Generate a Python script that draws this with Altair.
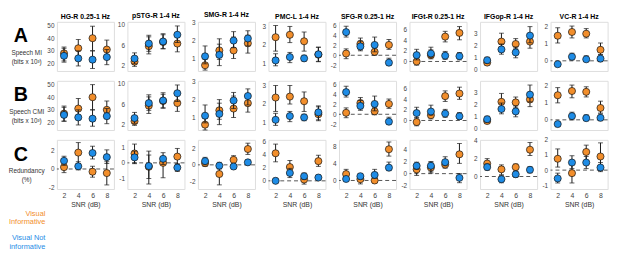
import altair as alt
import pandas as pd

SNR = [2, 4, 6, 8]
REGIONS = ["HG-R 0.25-1 Hz", "pSTG-R 1-4 Hz", "SMG-R 1-4 Hz", "PMC-L 1-4 Hz",
           "SFG-R 0.25-1 Hz", "IFGt-R 0.25-1 Hz", "IFGop-R 1-4 Hz", "VC-R 1-4 Hz"]
ORANGE = "#F28E2B"
BLUE = "#1E8CE6"

# ---- Row A: Speech MI (bits x 10^3); one list per region, values at SNR 2,4,6,8
MI_VI = [[28, 32, 40, 31], [2.8, 5.8, 6.6, 6.3], [0.62, 1.45, 1.45, 1.85], [1.92, 2.05, 1.7, 0.98],
         [0.35, 2.3, 0.7, 2.1], [0.0, 1.2, 4.7, 5.4], [0.55, 2.3, 2.1, 2.3], [1.48, 1.7, 1.6, 0.65]]
MI_VI_LO = [[22, 25, 30, 24], [1.9, 4.3, 5.3, 4.7], [0.35, 0.95, 1.0, 1.3], [1.17, 1.63, 1.17, 0.6],
            [-0.7, 1.1, 0.0, 1.2], [-0.7, 0.5, 3.7, 4.1], [0.35, 1.6, 1.7, 1.75], [1.05, 1.35, 1.35, 0.37]]
MI_VI_HI = [[33, 39, 49.5, 38.5], [3.8, 7.6, 8.0, 8.0], [0.95, 2.1, 2.2, 2.3], [2.55, 2.5, 2.2, 1.38],
            [1.3, 3.5, 1.5, 3.2], [0.8, 2.2, 5.7, 6.6], [0.8, 3.0, 2.55, 2.85], [1.95, 2.05, 1.9, 1.05]]
MI_VN = [[26, 24, 23, 25], [3.4, 6.3, 6.7, 8.0], [1.12, 1.2, 2.0, 2.12], [0.67, 0.85, 0.78, 1.0],
         [4.7, 1.8, 2.1, -1.5], [1.2, 1.5, 1.1, 1.0], [0.75, 1.65, 1.4, 2.8], [-0.2, 0.24, 0.09, 0.13]]
MI_VN_LO = [[21, 18, 16, 19], [2.4, 4.8, 5.3, 6.5], [0.7, 0.6, 1.6, 1.7], [0.38, 0.55, 0.62, 0.62],
            [3.7, 0.9, 0.7, -2.1], [0.3, 0.8, 0.4, 0.3], [0.5, 1.25, 0.95, 2.2], [-0.3, 0.05, -0.05, -0.05]]
MI_VN_HI = [[32, 30, 30, 31], [4.5, 7.9, 8.2, 9.7], [1.7, 1.8, 2.5, 2.55], [1.03, 1.1, 0.95, 1.38],
            [5.9, 2.9, 3.7, -0.6], [2.3, 2.7, 1.9, 1.7], [1.0, 2.1, 1.85, 3.55], [-0.1, 0.45, 0.3, 0.35]]

# ---- Row B: Speech CMI (bits x 10^3)
CMI_VI = [[27, 31, 40, 30], [2.7, 5.7, 6.6, 6.2], [0.6, 1.4, 1.5, 1.8], [1.85, 1.9, 1.65, 0.95],
          [0.3, 2.3, 0.6, 2.1], [-0.3, 1.0, 4.6, 5.1], [0.6, 2.2, 2.15, 2.4], [1.45, 1.7, 1.65, 0.7]]
CMI_VI_LO = [[21, 24, 30, 23], [1.9, 4.2, 5.2, 4.6], [0.3, 0.9, 1.0, 1.3], [1.1, 1.5, 1.1, 0.6],
             [-0.7, 1.1, -0.1, 1.2], [-1.0, 0.3, 3.6, 4.0], [0.4, 1.5, 1.7, 1.8], [1.0, 1.3, 1.35, 0.4]]
CMI_VI_HI = [[33, 39, 50, 37], [3.6, 7.4, 7.9, 7.9], [0.95, 2.0, 2.2, 2.3], [2.5, 2.5, 2.15, 1.35],
             [1.3, 3.4, 1.4, 3.1], [0.5, 1.9, 5.6, 6.3], [0.85, 2.9, 2.6, 2.9], [1.9, 2.05, 1.95, 1.1]]
CMI_VN = [[26, 24, 23, 25], [3.3, 6.2, 6.7, 8.1], [1.1, 1.2, 1.95, 2.2], [0.65, 0.85, 0.78, 1.05],
          [4.5, 1.7, 2.1, -1.5], [1.4, 1.7, 1.3, 0.8], [0.75, 1.6, 1.4, 2.8], [-0.25, 0.22, 0.1, 0.12]]
CMI_VN_LO = [[21, 18, 17, 19], [2.3, 4.8, 5.3, 6.5], [0.7, 0.6, 1.5, 1.7], [0.35, 0.55, 0.6, 0.65],
             [3.5, 0.8, 0.7, -2.1], [0.5, 1.0, 0.6, 0.2], [0.5, 1.2, 0.95, 2.2], [-0.4, 0.0, -0.05, -0.05]]
CMI_VN_HI = [[32, 30, 30, 31], [4.4, 7.8, 8.2, 9.7], [1.7, 1.8, 2.4, 2.6], [1.0, 1.1, 0.95, 1.4],
             [5.7, 2.8, 3.7, -0.6], [2.5, 2.9, 2.1, 1.5], [1.0, 2.1, 1.85, 3.6], [-0.1, 0.45, 0.3, 0.35]]

# ---- Row C: Redundancy (%)
RED_VI = [[0.2, 1.8, -0.3, -0.45], [0.6, -0.25, 0.0, 0.4], [0.2, -1.1, 0.6, 1.9], [4.2, 2.1, 0.2, 3.0],
          [1.5, 0.3, 0.0, 7.3], [0.7, 1.0, 1.5, 3.2], [1.45, 0.8, 1.05, 3.0], [0.75, -0.2, 1.2, 0.9]]
RED_VI_LO = [[-0.4, 0.6, -0.9, -1.75], [0.0, -1.0, -0.95, -0.1], [-0.2, -2.4, 0.1, 1.25], [2.9, 1.3, -0.5, 2.2],
             [0.6, -0.8, -0.6, 5.7], [-0.3, 0.1, 0.9, 1.7], [1.0, 0.2, 0.6, 2.35], [0.2, -0.85, 0.6, 0.0]]
RED_VI_HI = [[0.8, 2.9, 0.3, 0.8], [1.2, 0.5, 0.4, 0.92], [0.6, -0.2, 1.1, 2.6], [5.6, 3.1, 0.8, 3.9],
             [2.6, 1.2, 0.6, 9.0], [1.6, 1.9, 2.1, 5.0], [2.0, 1.3, 1.4, 3.8], [1.4, 0.4, 1.65, 1.8]]
RED_VN = [[0.9, 0.3, 1.75, 1.3], [0.35, -0.2, 0.26, -0.3], [0.45, -0.1, -0.2, 0.3], [0.0, 1.2, 0.7, 0.5],
          [0.35, 1.0, 1.3, 3.0], [1.3, 1.3, 1.9, -0.7], [1.05, -0.3, 0.25, 0.75], [-0.55, 0.5, 0.5, 0.17]]
RED_VN_LO = [[0.4, -0.1, 1.1, 0.6], [-0.05, -1.35, -0.1, -0.55], [0.0, -0.5, -0.5, 0.0], [-0.3, 0.5, 0.2, 0.2],
             [-0.1, 0.3, 0.5, 2.3], [0.7, 0.3, 1.3, -1.5], [0.7, -0.7, -0.1, 0.4], [-0.85, 0.1, 0.1, -0.1]]
RED_VN_HI = [[1.4, 0.8, 2.5, 2.1], [0.75, 0.75, 0.65, -0.05], [0.9, 0.3, 0.1, 0.6], [0.4, 1.9, 1.2, 0.9],
             [0.9, 1.6, 2.6, 4.3], [1.9, 2.0, 2.8, 0.0], [1.4, 0.1, 0.6, 1.1], [-0.2, 0.95, 0.9, 0.5]]

# ---- axes per region
Y_DOMAIN_AB = [[14, 53], [1, 10.5], [0.3, 3.05], [0.1, 2.75], [-3.2, 6.8], [-1.8, 7.5], [-0.15, 3.95], [-0.6, 2.3]]
Y_TICKS_AB = [[20, 30, 40, 50], [2, 6, 10], [1, 2, 3], [0.5, 1.5, 2.5], [-2, 0, 2, 4, 6], [0, 2, 4, 6], [0, 1, 2, 3], [0, 1, 2]]
ZERO_AB = [False, False, False, False, True, True, False, True]
Y_DOMAIN_C = [[-2.2, 3.2], [-1.67, 1.47], [-2.9, 3.0], [-1.25, 6.25], [-2, 9.5], [-2.55, 5.6], [-1.4, 4.1], [-1.25, 2.0]]
Y_TICKS_C = [[-2, 0, 2], [-1, 0, 1], [-2, 0, 2], [0, 2, 4, 6], [0, 4, 8], [-2, 0, 2, 4], [0, 2, 4], [-1, 0, 1, 2]]

FONT = "Liberation Sans"
W, H = 58, 50
LABW = 34
HYPHEN = "replace(datum.label, '\u2212', '-')"


def panel(vi, vi_lo, vi_hi, vn, vn_lo, vn_hi, dom, ticks, zero, title=None, xaxis=False):
    if xaxis:
        xax = alt.Axis(values=SNR, title="SNR (dB)", grid=False, domain=False, ticks=False,
                       labelFontSize=7, labelPadding=3, labelColor="#444", titleFontSize=7,
                       titleFontWeight="normal", titleColor="#333", titlePadding=2, labelFont=FONT, titleFont=FONT)
    else:
        xax = None
    xs = alt.Scale(domain=[1, 9], nice=False, zero=False)
    ys = alt.Scale(domain=dom, nice=False, zero=False)
    yax = alt.Axis(values=ticks, title=None, grid=False, domain=False, ticks=False, labelFontSize=6.5,
                   labelPadding=3, labelColor="#444", labelFont=FONT, labelExpr=HYPHEN)
    layers = []
    if zero:
        layers.append(
            alt.Chart(pd.DataFrame({"z": [0]})).mark_rule(color="#555", strokeDash=[4, 3], strokeWidth=1)
            .encode(y=alt.Y("z:Q", scale=ys, axis=yax))
        )
    for vals, lo, hi, col in [(vi, vi_lo, vi_hi, ORANGE), (vn, vn_lo, vn_hi, BLUE)]:
        df = pd.DataFrame({"snr": SNR, "val": vals, "lo": lo, "hi": hi})
        base = alt.Chart(df)
        x = alt.X("snr:Q", scale=xs, axis=xax)
        layers.append(base.mark_rule(color="#1a1a1a", strokeWidth=1).encode(
            x=x, y=alt.Y("lo:Q", scale=ys, axis=yax), y2="hi:Q"))
        layers.append(base.mark_tick(orient="horizontal", size=5, thickness=1, color="#1a1a1a").encode(
            x=x, y=alt.Y("lo:Q", scale=ys, axis=yax)))
        layers.append(base.mark_tick(orient="horizontal", size=5, thickness=1, color="#1a1a1a").encode(
            x=x, y=alt.Y("hi:Q", scale=ys, axis=yax)))
        layers.append(base.mark_circle(size=52, color=col, opacity=1, stroke="#111", strokeWidth=0.7).encode(
            x=x, y=alt.Y("val:Q", scale=ys, axis=yax)))
    ch = alt.layer(*layers)
    if title:
        ch = ch.properties(width=W, height=H, title=alt.TitleParams(
            text=title, fontSize=7, fontWeight="bold", offset=2, color="black", font=FONT, anchor="middle"))
    else:
        ch = ch.properties(width=W, height=H)
    return ch


def txt(s, x, y, size=6.5, weight="normal", color="#222", align="center"):
    return alt.Chart(pd.DataFrame({"t": [s]})).mark_text(
        x=x, y=y, fontSize=size, fontWeight=weight, color=color, align=align, baseline="middle", font=FONT
    ).encode(text="t:N")


def label_col(letter, l1, l2, legend=False):
    layers = [txt(letter, 11, 15, size=20, weight="bold", color="black"),
              txt(l1, 17, 32, color="#333"), txt(l2, 17, 40.5, color="#333")]
    if legend:
        layers += [txt("Visual", 36, 75, size=7.5, color=ORANGE, align="right"),
                   txt("Informative", 36, 84, size=7.5, color=ORANGE, align="right"),
                   txt("Visual Not", 36, 100, size=7.5, color=BLUE, align="right"),
                   txt("informative", 36, 109, size=7.5, color=BLUE, align="right")]
    return alt.layer(*layers).properties(width=LABW, height=H, view=alt.ViewBackground(stroke="transparent"))


charts = [label_col("A", "Speech MI", "(bits x 10³)")]
for k in range(8):
    charts.append(panel(MI_VI[k], MI_VI_LO[k], MI_VI_HI[k], MI_VN[k], MI_VN_LO[k], MI_VN_HI[k],
                        Y_DOMAIN_AB[k], Y_TICKS_AB[k], ZERO_AB[k], title=REGIONS[k]))
charts.append(label_col("B", "Speech CMI", "(bits x 10³)"))
for k in range(8):
    charts.append(panel(CMI_VI[k], CMI_VI_LO[k], CMI_VI_HI[k], CMI_VN[k], CMI_VN_LO[k], CMI_VN_HI[k],
                        Y_DOMAIN_AB[k], Y_TICKS_AB[k], ZERO_AB[k]))
charts.append(label_col("C", "Redundancy", "(%)", legend=True))
for k in range(8):
    charts.append(panel(RED_VI[k], RED_VI_LO[k], RED_VI_HI[k], RED_VN[k], RED_VN_LO[k], RED_VN_HI[k],
                        Y_DOMAIN_C[k], Y_TICKS_C[k], True, xaxis=True))

chart = alt.concat(*charts, columns=9, bounds="flush", align="each",
                   spacing=alt.RowColnumber(row=10, column=13.7)).properties(
    padding=0, background="white"
).configure_view(stroke="#a6a6a6", strokeWidth=1).configure(font=FONT)

chart.save("out.html", embed_options={"renderer": "svg", "actions": False})
